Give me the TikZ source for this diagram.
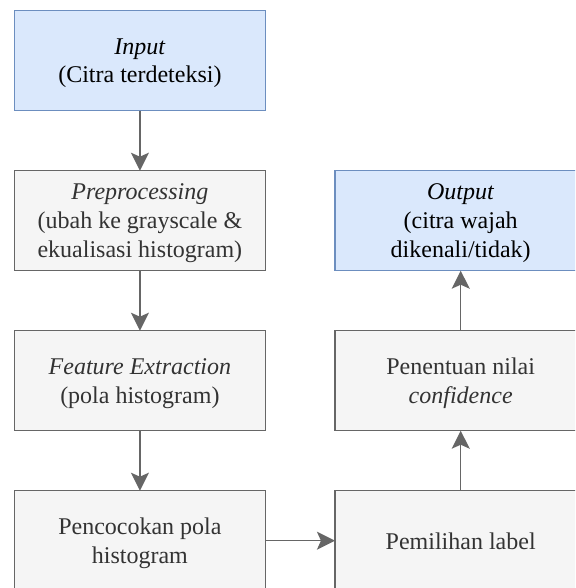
\documentclass[tikz,border=0pt]{standalone}
\usepackage{fontspec}
\setmainfont{Liberation Serif}
\usetikzlibrary{arrows.meta}
\definecolor{bluefill}{HTML}{DAE8FC}
\definecolor{bluedraw}{HTML}{6C8EBF}
\definecolor{grayfill}{HTML}{F5F5F5}
\definecolor{graydraw}{HTML}{666666}
\definecolor{graytext}{HTML}{333333}
\tikzset{
  box/.style={draw, line width=1.3pt, minimum width=251.5pt, minimum height=100pt,
    inner sep=0pt, outer sep=0pt, align=center, text depth=0pt,
    font=\fontsize{24pt}{28.8pt}\selectfont},
  bluebox/.style={box, fill=bluefill, draw=bluedraw, text=black},
  graybox/.style={box, fill=grayfill, draw=graydraw, text=graytext},
  conn/.style={draw=graydraw, line width=1.3pt,
    -{Stealth[length=18pt, width=18pt, inset=4pt]}},
}
\begin{document}
\begin{tikzpicture}[x=1pt, y=-1pt]
\clip (0,0) rectangle (575,588);
\useasboundingbox (0,0) rectangle (575,588);
\fill[white] (0,0) rectangle (575,588);
\node[bluebox] (input) at (139.9,60.7) {\textit{Input}\\(Citra terdeteksi)};
\node[graybox] (pre) at (139.9,220.7) {\textit{Preprocessing}\\(ubah ke grayscale \&\\ekualisasi histogram)};
\node[graybox] (feat) at (139.9,380.7) {\textit{Feature Extraction}\\(pola histogram)};
\node[graybox] (match) at (139.9,540.7) {Pencocokan pola\\histogram};
\node[graybox] (label) at (460.7,540.7) {Pemilihan label};
\node[graybox] (conf) at (460.7,380.7) {Penentuan nilai\\\textit{confidence}};
\node[bluebox] (output) at (460.7,220.7) {\textit{Output}\\(citra wajah\\dikenali/tidak)};
\draw[conn] (input) -- (pre);
\draw[conn] (pre) -- (feat);
\draw[conn] (feat) -- (match);
\draw[conn] (match) -- (label);
\draw[conn] (label) -- (conf);
\draw[conn] (conf) -- (output);
\end{tikzpicture}
\end{document}
